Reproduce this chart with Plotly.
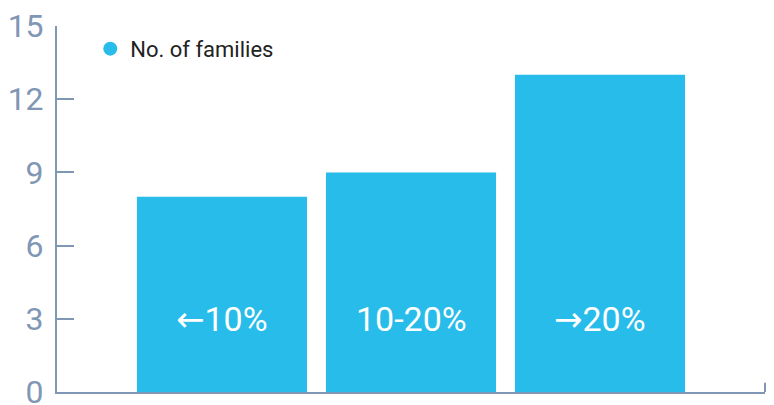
import plotly.graph_objects as go

categories = ["lt10", "10-20", "gt20"]
arrows = ["←", "", "→"]
labels = ["10%", "10-20%", "20%"]
values = [8, 9, 13]
series_name = "No. of families"
tick_vals = [0, 3, 6, 9, 12, 15]

bar_color = "#27bce9"
axis_color = "#7f97b5"

fig = go.Figure()
fig.add_trace(go.Bar(
    x=categories, y=values, name=series_name,
    marker=dict(color=bar_color, line=dict(width=0)),
    showlegend=False,
))
# legend proxy with circle marker
fig.add_trace(go.Scatter(
    x=[None], y=[None], mode="markers", name=series_name,
    marker=dict(color=bar_color, size=14, symbol="circle"),
    showlegend=True,
))

for c, a, t in zip(categories, arrows, labels):
    txt = (f'<span style="font-family:DejaVu Sans">{a}</span>' if a else "") + t
    fig.add_annotation(x=c, y=3, text=txt, showarrow=False,
                       font=dict(color="white", size=34, family="Roboto"),
                       xanchor="center", yanchor="middle")

fig.add_shape(type="line", xref="paper", yref="paper",
              x0=1, x1=1, y0=0, y1=0.025,
              line=dict(color=axis_color, width=2))

fig.update_layout(
    width=774, height=405,
    margin=dict(l=57, r=9, t=26, b=13),
    paper_bgcolor="white", plot_bgcolor="white",
    bargap=0.1,
    font=dict(family="Roboto"),
    legend=dict(x=0.047, y=0.995, xanchor="left", yanchor="top",
                font=dict(size=22, color="#222222", family="Roboto"),
                bgcolor="rgba(0,0,0,0)", itemwidth=30),
    xaxis=dict(range=[-0.873, 2.873], showticklabels=False, ticks="",
               showline=True, linecolor=axis_color, linewidth=2,
               showgrid=False, zeroline=False, fixedrange=True,
               automargin=False),
    yaxis=dict(range=[0, 15], tickvals=tick_vals, ticks="inside", ticklen=17,
               tickcolor=axis_color, tickwidth=2,
               showline=True, linecolor=axis_color, linewidth=2,
               showgrid=False, zeroline=False, automargin=False,
               ticklabeloverflow="allow",
               tickfont=dict(size=32, color=axis_color, family="Roboto"),
               ticklabelstandoff=5),
)

fig.write_html("out.html")
